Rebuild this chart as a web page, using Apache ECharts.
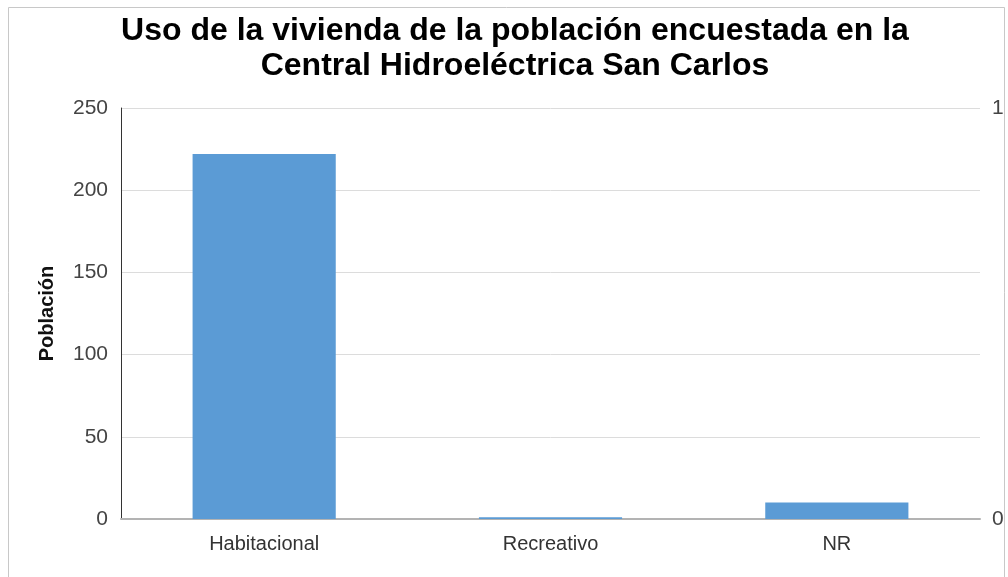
<!DOCTYPE html>
<html><head><meta charset="utf-8">
<script src="https://cdn.jsdelivr.net/npm/echarts@6/dist/echarts.min.js"></script>
<style>html,body{margin:0;padding:0;background:#fff;}#c{width:1008px;height:577px;}</style>
</head><body><div id="c"></div>
<script>
var categories = ["Habitacional", "Recreativo", "NR"];
var poblacion = [222, 1, 10];
var leftTicks = [0, 50, 100, 150, 200, 250];
var titleLines = ["Uso de la vivienda de la población encuestada en la", "Central Hidroeléctrica San Carlos"];

var chart = echarts.init(document.getElementById('c'));
chart.setOption({
  backgroundColor: '#fff',
  animation: false,
  title: {
    text: titleLines.join('\n'),
    left: 510, top: 9, textAlign: 'center',
    textStyle: {fontFamily: 'Liberation Sans', fontWeight: 'bold', fontSize: 32, color: '#000', lineHeight: 35}
  },
  graphic: [{
    type: 'rect', shape: {x: 8.5, y: 7.5, width: 996, height: 600},
    style: {fill: 'none', stroke: '#c8c8c8', lineWidth: 1}, silent: true
  }],
  grid: {left: 121, right: 28, top: 108, bottom: 58},
  xAxis: {
    type: 'category', data: categories,
    axisLine: {lineStyle: {color: '#b3b3b3', width: 2}},
    axisTick: {show: false},
    axisLabel: {fontFamily: 'Liberation Sans', fontSize: 20, color: '#333', margin: 15}
  },
  yAxis: [{
    type: 'value', min: leftTicks[0], max: leftTicks[leftTicks.length - 1], interval: 50,
    name: 'Población', nameLocation: 'middle', nameGap: 64, nameRotate: 90,
    nameTextStyle: {fontFamily: 'Liberation Sans', fontWeight: 'bold', fontSize: 20, color: '#111'},
    axisLine: {show: true, lineStyle: {color: '#333', width: 1}},
    axisTick: {show: false},
    axisLabel: {fontFamily: 'Liberation Sans', fontSize: 21, color: '#444', margin: 13},
    splitLine: {lineStyle: {color: '#dcdcdc', width: 1}}
  }, {
    type: 'value', min: 0, max: 1, interval: 1, position: 'right',
    axisLine: {show: false}, axisTick: {show: false}, splitLine: {show: false},
    axisLabel: {fontFamily: 'Liberation Sans', fontSize: 21, color: '#444', margin: 12}
  }],
  series: [{
    type: 'bar', data: poblacion, yAxisIndex: 0, barWidth: '50%',
    itemStyle: {color: '#5b9bd5'}
  }]
});
</script></body></html>
